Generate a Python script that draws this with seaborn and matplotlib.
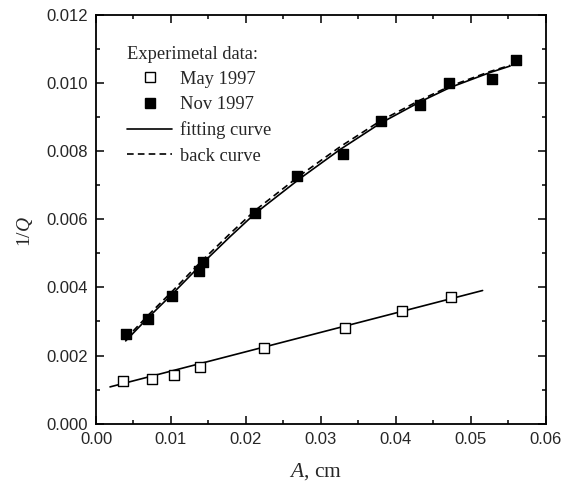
import numpy as np
import pandas as pd
import matplotlib
matplotlib.use("Agg")
import matplotlib.pyplot as plt
import seaborn as sns
from matplotlib.ticker import MultipleLocator, FormatStrFormatter
from matplotlib.lines import Line2D

# May 1997 (open squares)
may_A = [0.00365, 0.00752, 0.01046, 0.01384, 0.0224, 0.03329, 0.0409, 0.04736]
may_Q = [0.001255, 0.001325, 0.00143, 0.001675, 0.00221, 0.00282, 0.00331, 0.00372]

# Nov 1997 (filled squares)
nov_A = [0.00396, 0.0069, 0.0101, 0.01375, 0.01433, 0.02127, 0.02688, 0.0330,
         0.0380, 0.04326, 0.04717, 0.05287, 0.05607]
nov_Q = [0.00262, 0.003066, 0.003737, 0.00448, 0.00475, 0.00618, 0.00728, 0.00791,
         0.00890, 0.00935, 0.01001, 0.01012, 0.01067]

# straight fit for May data (end points)
may_fit_A = [0.00187, 0.0516]
may_fit_Q = [0.00108, 0.00391]

# fitting curve for Nov data
fit_A = [0.00396, 0.0069, 0.0101, 0.01389, 0.01789, 0.02123, 0.02724, 0.03258,
         0.03796, 0.04326, 0.04726, 0.0526, 0.05527]
fit_Q = [0.00243, 0.00310, 0.00379, 0.00464, 0.00549, 0.00617, 0.00720, 0.00805,
         0.00882, 0.00945, 0.00987, 0.01031, 0.01050]

# back curve, a bit above the fitting curve
back_Q = [0.00249, 0.00317, 0.00387, 0.00473, 0.00558, 0.00626, 0.00729, 0.00813,
          0.00889, 0.00950, 0.00991, 0.01034, 0.01052]

sns.set_style("ticks")
plt.rcParams['font.family'] = ['Liberation Sans', 'DejaVu Sans']
plt.rcParams['mathtext.fontset'] = 'custom'
plt.rcParams['mathtext.it'] = 'Liberation Serif:italic'
plt.rcParams['mathtext.rm'] = 'Liberation Serif'
plt.rcParams['mathtext.cal'] = 'Liberation Serif'
plt.rcParams['mathtext.sf'] = 'Liberation Serif'
plt.rcParams['mathtext.bf'] = 'Liberation Serif:bold'

fig = plt.figure(figsize=(5.76, 4.82), dpi=100)
ax = fig.add_axes([0.1667, 0.121, 0.7804, 0.848])

sns.lineplot(x=may_fit_A, y=may_fit_Q, color='black', lw=1.2, ax=ax)
sns.lineplot(x=fit_A, y=fit_Q, color='black', lw=1.2, ax=ax)
sns.lineplot(x=fit_A, y=back_Q, color='black', lw=1.2, ax=ax,
             linestyle=(0, (4, 2.5)))
sns.scatterplot(x=may_A, y=may_Q, marker='s', s=60, facecolor='white',
                edgecolor='black', linewidth=1.0, ax=ax, zorder=5)
sns.scatterplot(x=nov_A, y=nov_Q, marker='s', s=60, color='black',
                edgecolor='black', linewidth=1.0, ax=ax, zorder=5)

ax.set_xlim(0, 0.06)
ax.set_ylim(0, 0.012)
ax.xaxis.set_major_locator(MultipleLocator(0.01))
ax.xaxis.set_minor_locator(MultipleLocator(0.005))
ax.yaxis.set_major_locator(MultipleLocator(0.002))
ax.yaxis.set_minor_locator(MultipleLocator(0.001))
ax.xaxis.set_major_formatter(FormatStrFormatter('%.2f'))
ax.yaxis.set_major_formatter(FormatStrFormatter('%.3f'))
ax.tick_params(which='both', direction='in', top=True, right=True, width=1.1,
               labelsize=12, color='black')
ax.tick_params(which='major', length=6, pad=6)
ax.tick_params(which='minor', length=3)
for sp in ax.spines.values():
    sp.set_linewidth(1.3)
    sp.set_color('black')

ax.set_xlabel('$A$, cm', family='Liberation Serif', fontsize=15.5, labelpad=10)
ax.set_ylabel('1/$Q$', family='Liberation Serif', fontsize=14, labelpad=8)
ax.xaxis.label.set_x(0.489)
ax.yaxis.label.set_y(0.47)

handles = [
    Line2D([], [], marker='s', ls='none', mfc='white', mec='black', ms=7.5),
    Line2D([], [], marker='s', ls='none', mfc='black', mec='black', ms=7.5),
    Line2D([], [], color='black', lw=1.2),
    Line2D([], [], color='black', lw=1.2, ls=(0, (4, 2.5))),
]
labels = ['May 1997', 'Nov 1997', 'fitting curve', 'back curve']
leg = ax.legend(handles, labels, title='Experimetal data:', loc='upper left',
                bbox_to_anchor=(0.07, 0.925), frameon=False, alignment='left',
                prop={'family': 'Liberation Serif', 'size': 13.3},
                handlelength=2.4, handletextpad=0.45, labelspacing=0.45,
                borderaxespad=0, borderpad=0)
leg.get_title().set_family('Liberation Serif')
leg.get_title().set_fontsize(13.3)

fig.savefig('out.png', dpi=100)
